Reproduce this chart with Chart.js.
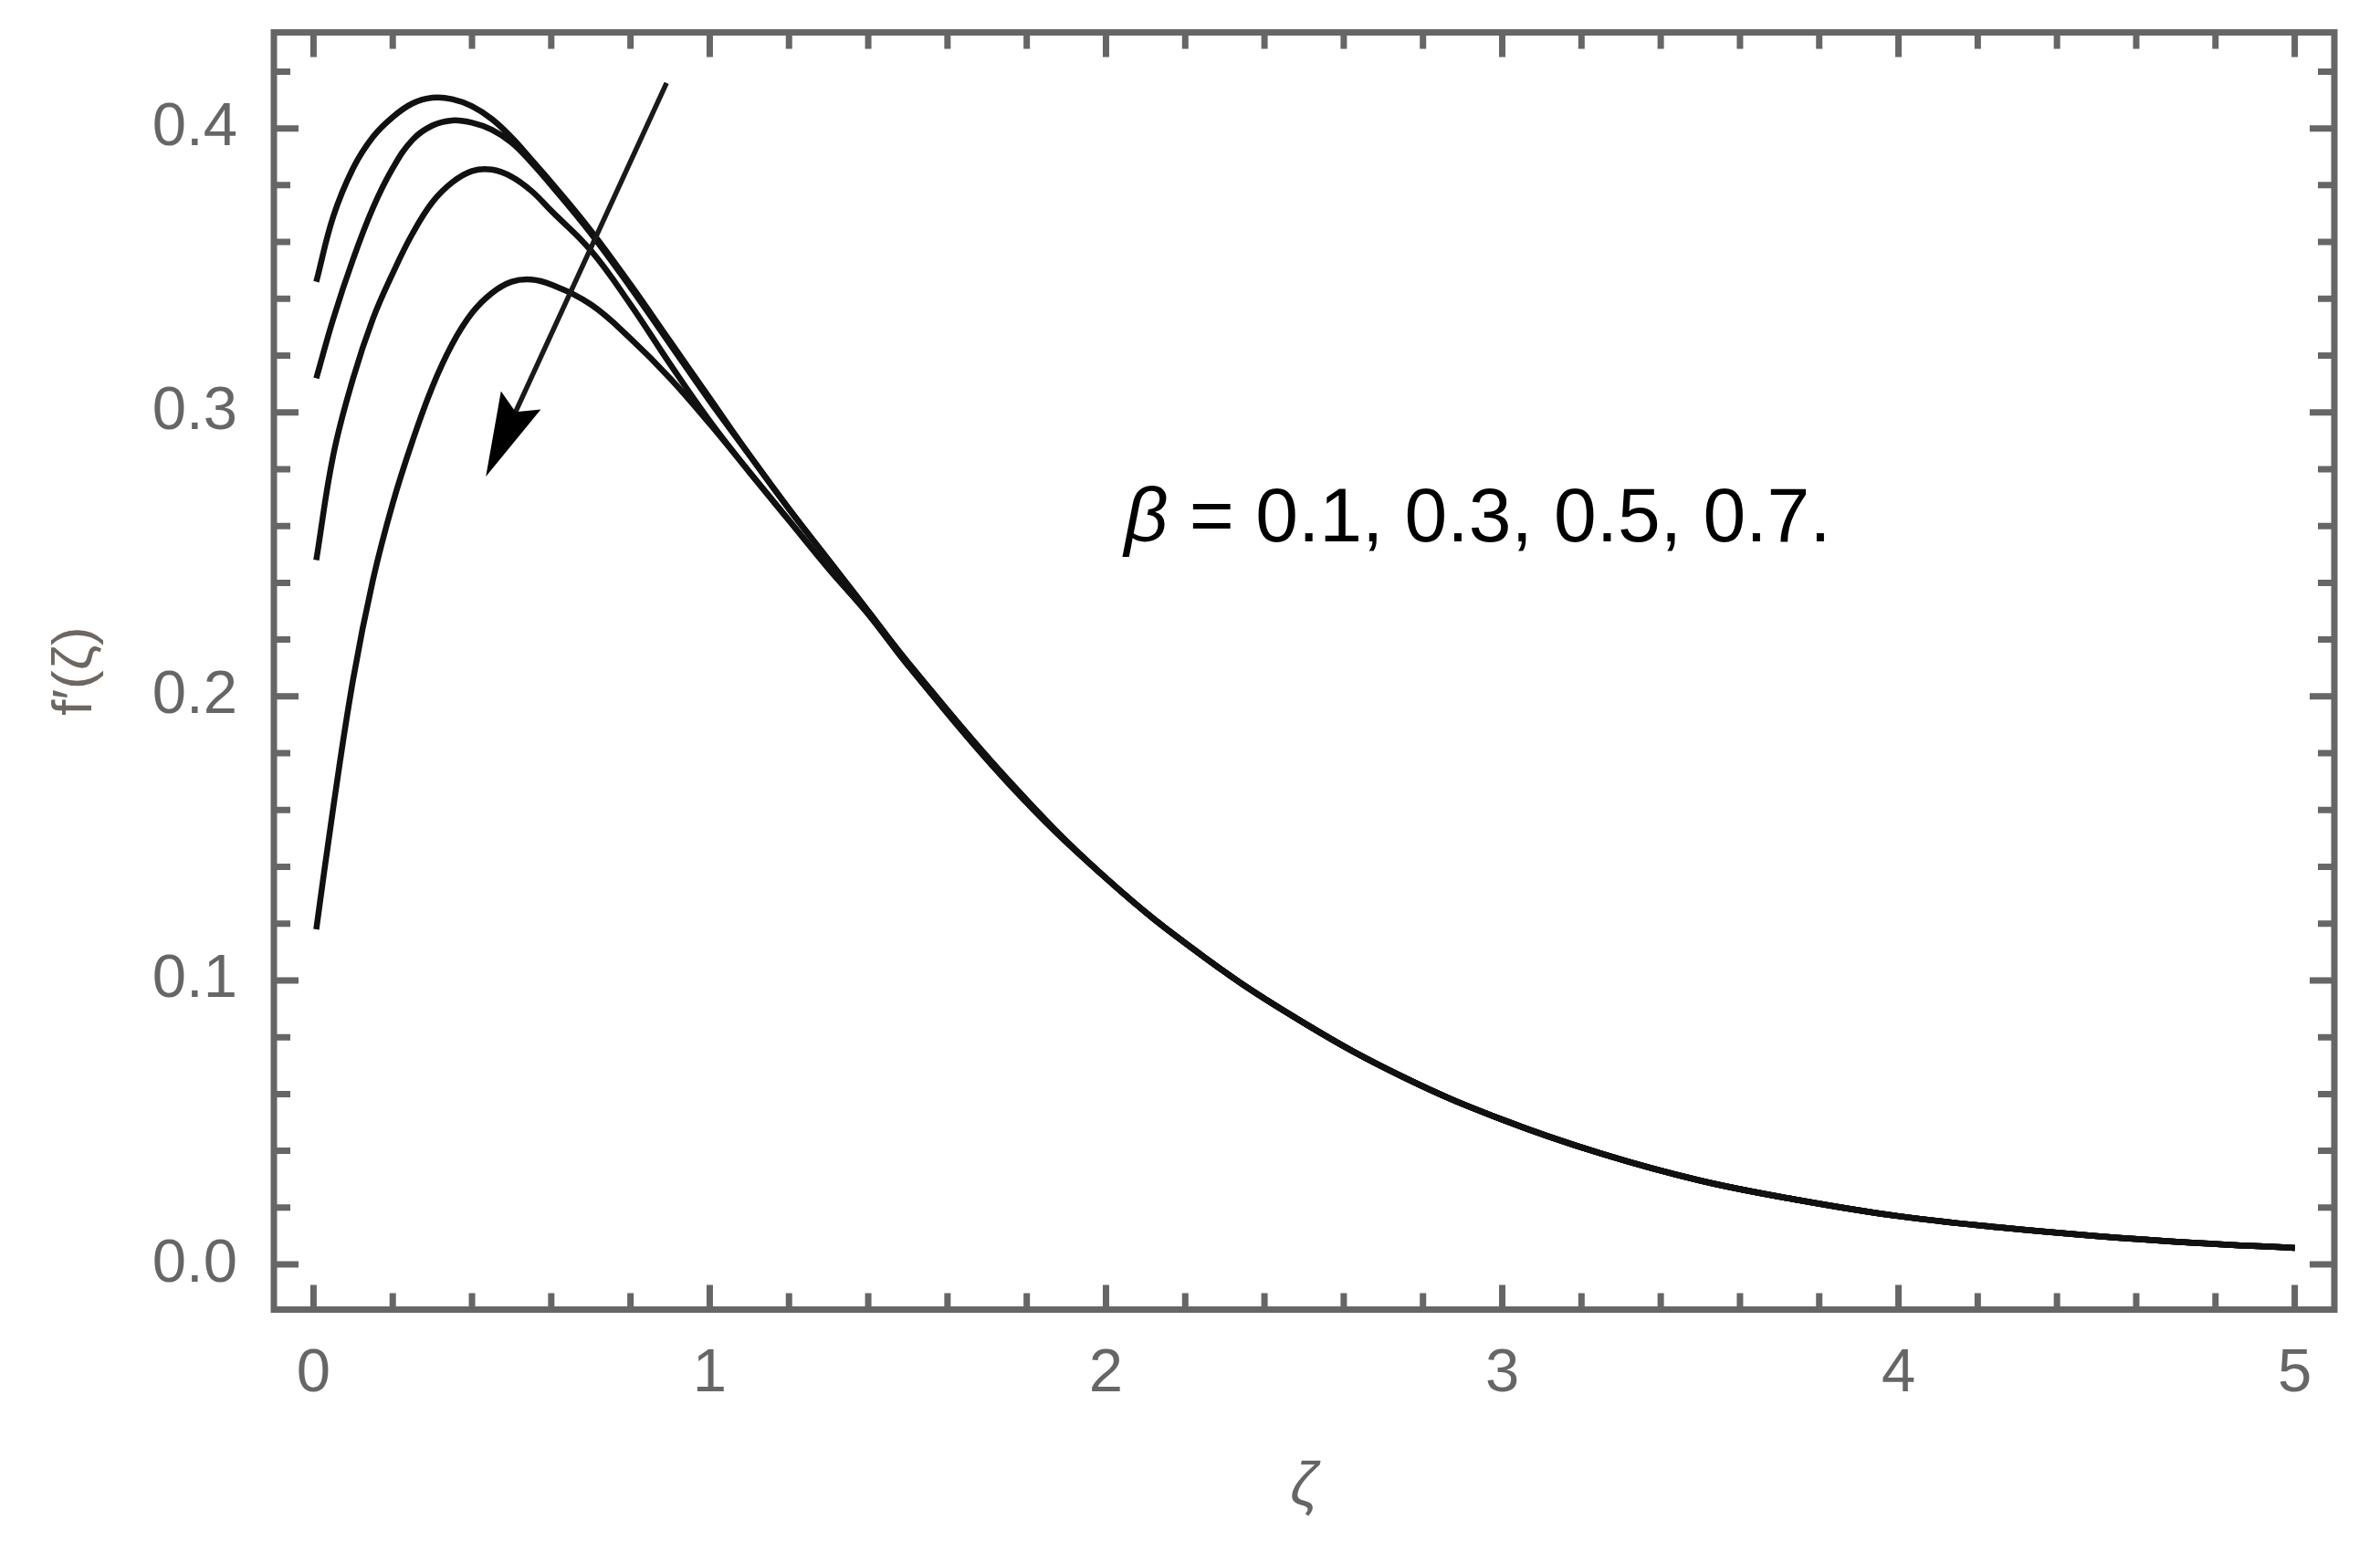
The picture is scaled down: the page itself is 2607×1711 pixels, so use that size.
<!DOCTYPE html>
<html>
<head>
<meta charset="utf-8">
<script src="https://cdn.jsdelivr.net/npm/chart.js@4"></script>
<style>
  html, body { margin: 0; padding: 0; background: #fff; }
  canvas { display: block; }
</style>
</head>
<body>
<canvas id="myChart" width="2607" height="1711"></canvas>
<script>
(function () {
  // zeta grid shared by all four curves
  const zeta = [0.007, 0.05, 0.1, 0.15, 0.2, 0.25, 0.3, 0.35, 0.4, 0.45, 0.5, 0.55, 0.6,
    0.7, 0.8, 0.9, 1.0, 1.1, 1.2, 1.3, 1.4, 1.5, 1.75, 2.0, 2.25, 2.5, 2.75, 3.0,
    3.25, 3.5, 3.75, 4.0, 4.25, 4.5, 4.75, 5.0];

  // f'(zeta), one array per beta
  const beta01 = [0.346, 0.369, 0.386, 0.397, 0.404, 0.4088, 0.4108, 0.4103, 0.4078, 0.4033, 0.3968, 0.389, 0.381,
    0.364, 0.345, 0.325, 0.305, 0.285, 0.266, 0.248, 0.230, 0.212, 0.171, 0.136, 0.108, 0.085, 0.066, 0.051,
    0.039, 0.0295, 0.0226, 0.017, 0.0131, 0.0100, 0.0076, 0.0058];
  const beta03 = [0.312, 0.333, 0.354, 0.372, 0.386, 0.396, 0.401, 0.4028, 0.402, 0.3995, 0.395, 0.388, 0.380,
    0.363, 0.344, 0.324, 0.304, 0.285, 0.266, 0.248, 0.230, 0.212, 0.171, 0.136, 0.108, 0.085, 0.066, 0.051,
    0.039, 0.0295, 0.0226, 0.017, 0.0131, 0.0100, 0.0076, 0.0058];
  const beta05 = [0.248, 0.285, 0.312, 0.333, 0.349, 0.363, 0.374, 0.381, 0.385, 0.3855, 0.383, 0.378, 0.371,
    0.357, 0.338, 0.317, 0.297, 0.279, 0.262, 0.245, 0.229, 0.211, 0.170, 0.136, 0.108, 0.085, 0.066, 0.051,
    0.039, 0.0295, 0.0226, 0.017, 0.0131, 0.0100, 0.0076, 0.0058];
  const beta07 = [0.118, 0.161, 0.206, 0.241, 0.268, 0.290, 0.309, 0.324, 0.335, 0.342, 0.346, 0.3468, 0.345,
    0.338, 0.326, 0.312, 0.296, 0.279, 0.262, 0.245, 0.229, 0.211, 0.170, 0.136, 0.108, 0.085, 0.066, 0.051,
    0.039, 0.0295, 0.0226, 0.017, 0.0131, 0.0100, 0.0076, 0.0058];

  const series = [
    { label: "β = 0.1", values: beta01 },
    { label: "β = 0.3", values: beta03 },
    { label: "β = 0.5", values: beta05 },
    { label: "β = 0.7", values: beta07 },
  ];

  const xTicks = [0, 1, 2, 3, 4, 5];
  const yTicks = [0.0, 0.1, 0.2, 0.3, 0.4];

  // annotation, in data units
  const noteText = " = 0.1, 0.3, 0.5, 0.7.";
  const noteAt = { x: 2.046, y: 0.2546 };
  const arrowFrom = { x: 0.891, y: 0.416 };
  const arrowTo = { x: 0.435, y: 0.2774 };

  const frameColor = "#666666";
  const labelFont = "'Liberation Sans', Arial, sans-serif";

  const frame = {
    id: "frame",
    afterDraw(chart) {
      const { ctx, chartArea: a, scales } = chart;
      const x = scales.x, y = scales.y;
      ctx.save();
      ctx.strokeStyle = frameColor;
      ctx.lineWidth = 7;
      ctx.lineCap = "butt";

      function ticks(scale, list, horiz) {
        const step = list[1] - list[0];
        const minor = step / 5;
        for (let i = Math.ceil(scale.min / minor - 1e-6); i * minor <= scale.max + 1e-9; i++) {
          const v = i * minor;
          const len = Math.abs(i % 5) === 0 ? 27 : 18;
          const p = scale.getPixelForValue(v);
          ctx.beginPath();
          if (horiz) {
            ctx.moveTo(p, a.bottom); ctx.lineTo(p, a.bottom - len);
            ctx.moveTo(p, a.top); ctx.lineTo(p, a.top + len);
          } else {
            ctx.moveTo(a.left, p); ctx.lineTo(a.left + len, p);
            ctx.moveTo(a.right, p); ctx.lineTo(a.right - len, p);
          }
          ctx.stroke();
        }
      }
      ticks(x, xTicks, true);
      ticks(y, yTicks, false);
      ctx.strokeRect(a.left, a.top, a.right - a.left, a.bottom - a.top);

      // arrow
      const x0 = x.getPixelForValue(arrowFrom.x), y0 = y.getPixelForValue(arrowFrom.y);
      const x1 = x.getPixelForValue(arrowTo.x), y1 = y.getPixelForValue(arrowTo.y);
      const ang = Math.atan2(y1 - y0, x1 - x0);
      const headLen = 92, headHalf = 24;
      const bx = x1 - headLen * Math.cos(ang), by = y1 - headLen * Math.sin(ang);
      ctx.strokeStyle = "#1a1a1a";
      ctx.fillStyle = "#000";
      ctx.lineWidth = 5.5;
      ctx.beginPath();
      ctx.moveTo(x0, y0);
      ctx.lineTo(bx + 20 * Math.cos(ang), by + 20 * Math.sin(ang));
      ctx.stroke();
      ctx.beginPath();
      ctx.moveTo(x1, y1);
      ctx.lineTo(bx + headHalf * Math.sin(ang), by - headHalf * Math.cos(ang));
      ctx.lineTo(bx + 14 * Math.cos(ang), by + 14 * Math.sin(ang));
      ctx.lineTo(bx - headHalf * Math.sin(ang), by + headHalf * Math.cos(ang));
      ctx.closePath();
      ctx.fill();

      // beta label
      const tx = x.getPixelForValue(noteAt.x), ty = y.getPixelForValue(noteAt.y);
      ctx.fillStyle = "#000";
      ctx.textBaseline = "alphabetic";
      ctx.textAlign = "left";
      ctx.font = "italic 84px " + labelFont;
      ctx.fillText("β", tx, ty);
      const bw = ctx.measureText("β").width;
      ctx.font = "84px " + labelFont;
      ctx.fillText(noteText, tx + bw, ty);
      ctx.restore();
    },
  };

  new Chart(document.getElementById("myChart"), {
    type: "line",
    plugins: [frame],
    data: {
      datasets: series.map((s) => ({
        label: s.label,
        data: zeta.map((z, i) => ({ x: z, y: s.values[i] })),
        borderColor: "#111111",
        borderWidth: 6.5,
        pointRadius: 0,
        fill: false,
        tension: 0.4,
      })),
    },
    options: {
      responsive: false,
      devicePixelRatio: 1,
      animation: false,
      layout: { padding: { left: 0, right: 50, top: 35.5, bottom: 0 } },
      plugins: {
        legend: { display: false },
        tooltip: { enabled: false },
      },
      scales: {
        x: {
          type: "linear",
          min: -0.1,
          max: 5.1,
          grid: { display: false },
          border: { display: false },
          afterFit: (s) => { s.height = 276.5; s.paddingLeft = 0; s.paddingRight = 0; },
          afterBuildTicks: (s) => { s.ticks = xTicks.map((v) => ({ value: v })); },
          ticks: {
            padding: 23,
            color: "#666666",
            font: { family: labelFont, size: 67 },
            callback: (v) => v.toFixed(0),
          },
          title: {
            display: true,
            text: "ζ",
            color: "#666666",
            font: { family: labelFont, size: 66, style: "italic" },
            padding: { top: 0, bottom: 41 },
          },
        },
        y: {
          min: -0.0159,
          max: 0.4338,
          grid: { display: false },
          border: { display: false },
          afterFit: (s) => { s.width = 300; s.paddingTop = 0; s.paddingBottom = 0; },
          afterBuildTicks: (s) => { s.ticks = yTicks.map((v) => ({ value: v })); },
          ticks: {
            padding: 32,
            color: "#666666",
            font: { family: labelFont, size: 67 },
            callback: (v) => v.toFixed(1),
          },
          title: {
            display: true,
            text: "f′(ζ)",
            color: "#6e6660",
            font: { family: labelFont, size: 62 },
            padding: { top: 46, bottom: 0 },
          },
        },
      },
    },
  });
})();
</script>
</body>
</html>
